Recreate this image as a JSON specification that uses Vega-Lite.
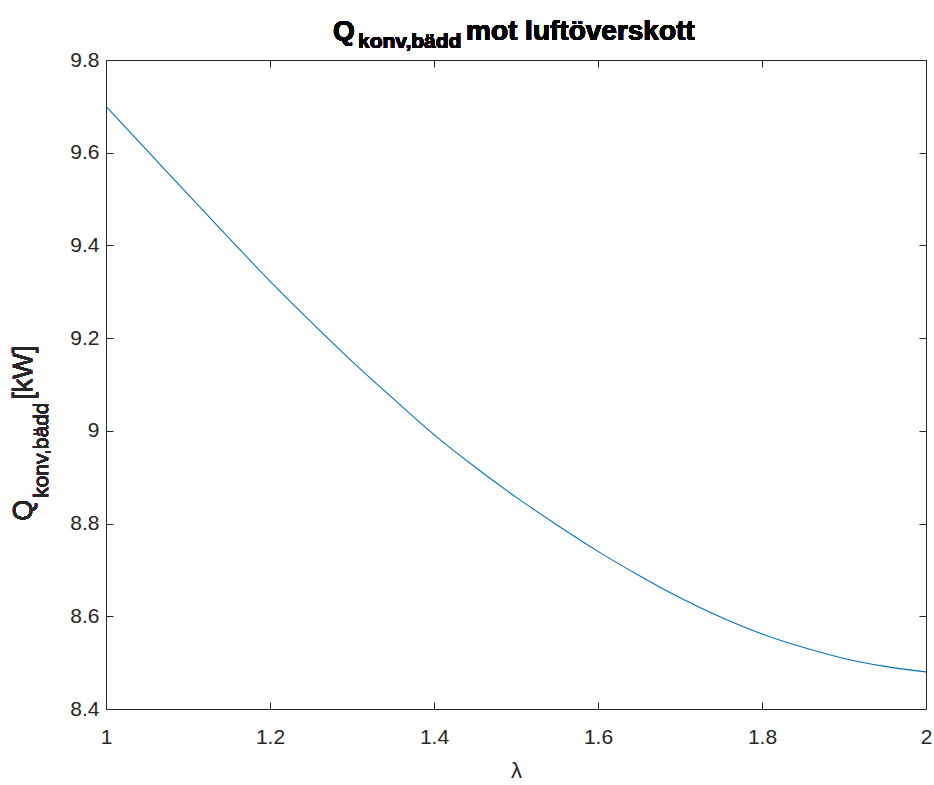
{
  "$schema": "https://vega.github.io/schema/vega-lite/v6.json",
  "width": 820,
  "height": 649,
  "autosize": {"type": "none"},
  "padding": {"left": 106, "top": 60, "right": 8, "bottom": 76},
  "background": "white",
  "config": {
    "view": {"stroke": null},
    "font": "Liberation Sans",
    "axis": {
      "domainColor": "#262626",
      "domainWidth": 1,
      "tickColor": "#262626",
      "tickSize": -7,
      "tickWidth": 1,
      "grid": false,
      "labelFont": "Liberation Sans",
      "labelFontSize": 21,
      "labelColor": "#262626",
      "labelFlush": false,
      "labelOverlap": false,
      "titleFont": "Liberation Sans",
      "titleFontWeight": "normal",
      "titleColor": "#262626"
    }
  },
  "data": {
    "values": [
      {"lambda": 1.00, "Q": 9.700},
      {"lambda": 1.05, "Q": 9.605},
      {"lambda": 1.10, "Q": 9.510},
      {"lambda": 1.15, "Q": 9.416},
      {"lambda": 1.20, "Q": 9.323},
      {"lambda": 1.25, "Q": 9.235},
      {"lambda": 1.30, "Q": 9.150},
      {"lambda": 1.35, "Q": 9.070},
      {"lambda": 1.40, "Q": 8.992},
      {"lambda": 1.45, "Q": 8.922},
      {"lambda": 1.50, "Q": 8.857},
      {"lambda": 1.55, "Q": 8.797},
      {"lambda": 1.60, "Q": 8.740},
      {"lambda": 1.65, "Q": 8.688},
      {"lambda": 1.70, "Q": 8.640},
      {"lambda": 1.75, "Q": 8.598},
      {"lambda": 1.80, "Q": 8.562},
      {"lambda": 1.85, "Q": 8.533},
      {"lambda": 1.90, "Q": 8.509},
      {"lambda": 1.95, "Q": 8.492},
      {"lambda": 2.00, "Q": 8.480}
    ]
  },
  "layer": [
    {
      "mark": {"type": "line", "color": "#0072BD", "strokeWidth": 1.1, "interpolate": "monotone"},
      "encoding": {
        "x": {
          "field": "lambda", "type": "quantitative",
          "scale": {"domain": [1, 2], "nice": false, "zero": false},
          "axis": {"orient": "bottom", "values": [1, 1.2, 1.4, 1.6, 1.8, 2], "format": "~g", "labelPadding": 24, "title": "λ", "titleFontSize": 22, "titlePadding": 13}
        },
        "y": {
          "field": "Q", "type": "quantitative",
          "scale": {"domain": [8.4, 9.8], "nice": false, "zero": false},
          "axis": {"orient": "left", "values": [8.4, 8.6, 8.8, 9, 9.2, 9.4, 9.6, 9.8], "format": "~g", "labelPadding": 14, "title": null}
        }
      }
    },
    {
      "mark": {"type": "line", "strokeOpacity": 0},
      "encoding": {
        "x": {
          "field": "lambda", "type": "quantitative",
          "scale": {"domain": [1, 2], "nice": false, "zero": false},
          "axis": {"orient": "top", "values": [1, 1.2, 1.4, 1.6, 1.8, 2], "labels": false, "title": null}
        },
        "y": {
          "field": "Q", "type": "quantitative",
          "scale": {"domain": [8.4, 9.8], "nice": false, "zero": false},
          "axis": {"orient": "right", "values": [8.4, 8.6, 8.8, 9, 9.2, 9.4, 9.6, 9.8], "labels": false, "title": null}
        }
      }
    },
    {
      "mark": {"type": "text", "text": "Q", "font": "Liberation Sans", "fontWeight": "bold", "fontSize": 28, "align": "left", "baseline": "alphabetic", "dx": -183, "dy": -20, "color": "#000000"},
      "encoding": {"x": {"datum": 1.5, "type": "quantitative", "axis": null}, "y": {"datum": 9.8, "type": "quantitative", "axis": null}}
    },
    {
      "mark": {"type": "text", "text": "konv,bädd", "font": "Liberation Sans", "fontWeight": "bold", "fontSize": 21, "align": "left", "baseline": "alphabetic", "dx": -158, "dy": -12, "color": "#000000"},
      "encoding": {"x": {"datum": 1.5, "type": "quantitative", "axis": null}, "y": {"datum": 9.8, "type": "quantitative", "axis": null}}
    },
    {
      "mark": {"type": "text", "text": " mot luftöverskott", "font": "Liberation Sans", "fontWeight": "bold", "fontSize": 28, "align": "left", "baseline": "alphabetic", "dx": -50, "dy": -20, "color": "#000000"},
      "encoding": {"x": {"datum": 1.5, "type": "quantitative", "axis": null}, "y": {"datum": 9.8, "type": "quantitative", "axis": null}}
    },
    {
      "mark": {"type": "text", "text": "Q", "font": "Liberation Sans", "fontSize": 27, "align": "left", "baseline": "alphabetic", "angle": 270, "dx": -90, "dy": -74, "color": "#262626"},
      "encoding": {"x": {"datum": 1, "type": "quantitative", "axis": null}, "y": {"datum": 9.0, "type": "quantitative", "axis": null}}
    },
    {
      "mark": {"type": "text", "text": "konv,bädd", "font": "Liberation Sans", "fontSize": 21, "align": "left", "baseline": "alphabetic", "angle": 270, "dx": -67, "dy": -58, "color": "#262626"},
      "encoding": {"x": {"datum": 1, "type": "quantitative", "axis": null}, "y": {"datum": 9.0, "type": "quantitative", "axis": null}}
    },
    {
      "mark": {"type": "text", "text": " [kW]", "font": "Liberation Sans", "fontSize": 27, "align": "left", "baseline": "alphabetic", "angle": 270, "dx": 31, "dy": -74, "color": "#262626"},
      "encoding": {"x": {"datum": 1, "type": "quantitative", "axis": null}, "y": {"datum": 9.0, "type": "quantitative", "axis": null}}
    }
  ],
  "resolve": {"axis": {"x": "independent", "y": "independent"}}
}
